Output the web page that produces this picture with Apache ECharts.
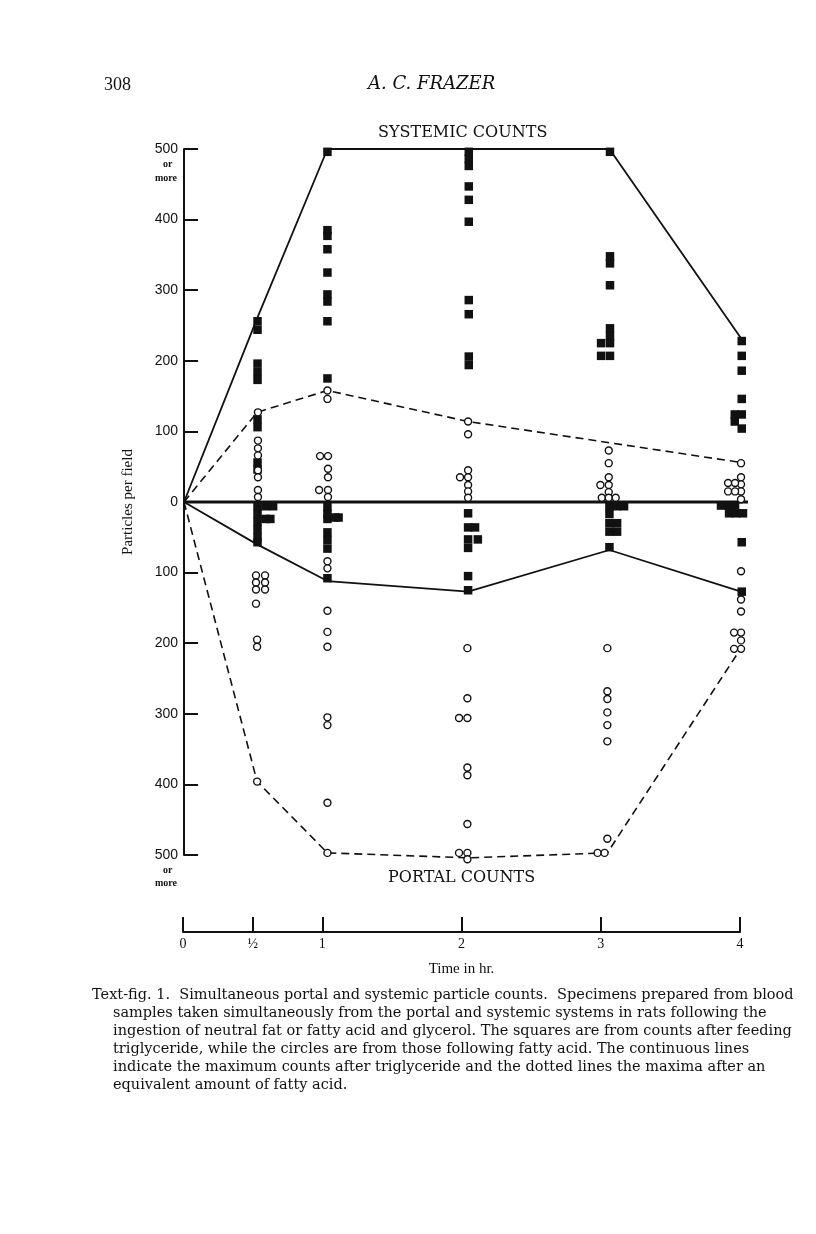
<!DOCTYPE html>
<html>
<head>
<meta charset="utf-8">
<title>Text-fig. 1</title>
<script src="https://cdn.jsdelivr.net/npm/echarts@6/dist/echarts.min.js"></script>
<style>
  html, body { margin: 0; padding: 0; background: #fff; }
  #chart { width: 816px; height: 1234px; }
</style>
</head>
<body>
<div id="chart"></div>
<script>
// x = time in hr (as placed in the drawing), y = particles per field
// portal values are kept as positive counts and drawn below the zero line
var sysTriMax  = [[0, 0], [0.525, 260], [1.03, 500], [2.04, 500], [3.055, 500], [4, 232]];
var sysFatMax  = [[0, 0], [0.525, 127], [1.03, 158], [2.04, 114], [4, 56]];
var portTriMax = [[0, 0], [0.525, 60], [1.03, 112], [2.04, 127], [3.055, 68], [4, 127]];
var portFatMax = [[0, 0], [0.525, 396], [1.03, 497], [2.04, 504], [3.04, 497], [4, 207]];

// squares = triglyceride
var sysSquares = [
  [0.528, 256], [0.528, 244], [0.528, 196], [0.528, 184], [0.528, 173], [0.528, 117], [0.528, 106], [0.528, 56], [0.528, 46],
  [1.03, 496], [1.03, 385], [1.03, 377], [1.03, 358], [1.03, 325], [1.03, 294], [1.03, 284], [1.03, 256], [1.03, 175],
  [2.045, 496], [2.045, 486], [2.045, 476], [2.045, 447], [2.045, 428], [2.045, 397], [2.045, 286], [2.045, 266], [2.045, 206], [2.045, 194],
  [3.059, 496], [3.059, 348], [3.059, 338], [3.059, 307], [3.059, 246], [3.059, 235], [3.059, 225], [3.059, 207], [2.995, 225], [2.995, 207],
  [4.005, 228], [4.005, 207], [4.005, 186], [4.005, 146], [4.005, 124], [4.005, 104], [3.955, 124], [3.955, 114]
];
var portSquares = [
  [0.528, 6], [0.528, 17], [0.528, 28], [0.528, 39], [0.528, 50], [0.528, 57], [0.585, 6], [0.64, 6], [0.585, 24], [0.62, 24],
  [1.03, 7], [1.03, 17], [1.03, 24], [1.03, 43], [1.03, 54], [1.03, 66], [1.03, 108], [1.085, 22], [1.11, 22],
  [2.04, 16], [2.04, 36], [2.09, 36], [2.04, 53], [2.04, 65], [2.11, 53], [2.04, 105], [2.04, 125],
  [3.055, 6], [3.11, 6], [3.16, 6], [3.055, 17], [3.055, 30], [3.11, 30], [3.055, 42], [3.11, 42], [3.055, 64],
  [3.856, 5], [3.907, 5], [3.957, 5], [3.914, 16], [3.964, 16], [4.014, 16], [4.005, 57], [4.005, 127]
];

// circles = fatty acid
var sysCircles = [
  [0.531, 127], [0.531, 87], [0.531, 76], [0.531, 66], [0.531, 45], [0.531, 35], [0.531, 17], [0.531, 7],
  [1.03, 158], [1.03, 146], [0.977, 65], [1.034, 65], [1.034, 47], [1.034, 35], [0.97, 17], [1.034, 17], [1.034, 7],
  [2.04, 114], [2.04, 96], [2.04, 45], [2.04, 35], [1.982, 35], [2.04, 24], [2.04, 15], [2.04, 6],
  [3.05, 73], [3.05, 55], [3.05, 35], [3.05, 24], [2.99, 24], [3.05, 14], [3.0, 6], [3.05, 6], [3.1, 6],
  [4.0, 55], [4.0, 35], [4.0, 25], [4.0, 15], [4.0, 4], [3.907, 27], [3.957, 27], [3.907, 15], [3.957, 15]
];
var portCircles = [
  [0.517, 104], [0.517, 114], [0.517, 124], [0.517, 144], [0.582, 104], [0.582, 114], [0.582, 124], [0.525, 195], [0.525, 205], [0.525, 396],
  [1.03, 84], [1.03, 94], [1.03, 154], [1.03, 184], [1.03, 205], [1.03, 305], [1.03, 316], [1.03, 426], [1.03, 497],
  [2.035, 207], [2.035, 278], [2.035, 306], [1.975, 306], [2.035, 376], [2.035, 387], [2.035, 456], [1.975, 497], [2.035, 497], [2.035, 506],
  [3.04, 207], [3.04, 268], [3.04, 279], [3.04, 298], [3.04, 316], [3.04, 339], [3.04, 477], [2.97, 497], [3.02, 497],
  [4.0, 98], [4.0, 138], [4.0, 155], [4.0, 185], [3.95, 185], [4.0, 196], [4.0, 208], [3.95, 208]
];

var timeTicks = [0, 0.5, 1, 2, 3, 4];
var timeLabels = ['0', '½', '1', '2', '3', '4'];

var captionLines = [
  'Text-fig. 1.  Simultaneous portal and systemic particle counts.  Specimens prepared from blood',
  'samples taken simultaneously from the portal and systemic systems in rats following the',
  'ingestion of neutral fat or fatty acid and glycerol. The squares are from counts after feeding',
  'triglyceride, while the circles are from those following fatty acid. The continuous lines',
  'indicate the maximum counts after triglyceride and the dotted lines the maxima after an',
  'equivalent amount of fatty acid.'
];

function below(arr) {
  return arr.map(function (p) { return [p[0], -p[1]]; });
}

var ink = '#111';
var serif = '"Liberation Serif", "DejaVu Serif", serif';
var wideSerif = '"DejaVu Serif", serif';

var graphics = [
  { type: 'text', left: 104, top: 76, style: { text: '308', font: '18px ' + serif, fill: ink } },
  { type: 'text', left: 368, top: 75, style: { text: 'A. C. FRAZER', font: 'italic 18px ' + wideSerif, fill: ink } },
  { type: 'text', left: 378, top: 125, style: { text: 'SYSTEMIC COUNTS', font: '16px ' + wideSerif, fill: ink } },
  { type: 'text', left: 388, top: 870, style: { text: 'PORTAL COUNTS', font: '16px ' + wideSerif, fill: ink } },
  { type: 'text', left: 163, top: 159, style: { text: 'or', font: 'bold 10px ' + serif, fill: ink } },
  { type: 'text', left: 155, top: 173, style: { text: 'more', font: 'bold 10px ' + serif, fill: ink } },
  { type: 'text', left: 163, top: 865, style: { text: 'or', font: 'bold 10px ' + serif, fill: ink } },
  { type: 'text', left: 155, top: 878, style: { text: 'more', font: 'bold 10px ' + serif, fill: ink } }
];
captionLines.forEach(function (line, i) {
  graphics.push({
    type: 'text',
    left: i === 0 ? 92 : 113,
    top: 988 + i * 18,
    style: { text: line, font: '14.5px ' + wideSerif, fill: ink }
  });
});

var chart = echarts.init(document.getElementById('chart'));
chart.setOption({
  backgroundColor: '#fff',
  animation: false,
  graphic: graphics,
  grid: [
    { left: 184, top: 149, width: 564, height: 706 },
    { left: 183, top: 912, width: 557, height: 20 }
  ],
  xAxis: [
    { gridIndex: 0, type: 'value', min: 0, max: 4.05, show: false },
    {
      gridIndex: 1, type: 'value', min: 0, max: 4,
      name: 'Time in hr.', nameLocation: 'middle', nameGap: 30,
      nameTextStyle: { fontFamily: serif, fontSize: 15, color: ink },
      axisLine: { show: true, onZero: false, lineStyle: { color: ink, width: 2 } },
      axisTick: { show: true, inside: true, length: 15, customValues: timeTicks, lineStyle: { color: ink, width: 2 } },
      axisLabel: {
        customValues: timeTicks, margin: 5, fontFamily: serif, fontSize: 14, color: ink,
        formatter: function (v) { return timeLabels[timeTicks.indexOf(v)]; }
      },
      splitLine: { show: false }
    }
  ],
  yAxis: [
    {
      gridIndex: 0, type: 'value', min: -500, max: 500, interval: 100,
      name: 'Particles per field', nameLocation: 'middle', nameGap: 48, nameRotate: 90,
      nameTextStyle: { fontFamily: serif, fontSize: 15, color: ink },
      axisLine: { show: true, onZero: false, lineStyle: { color: ink, width: 2 } },
      axisTick: { show: true, inside: true, length: 14, lineStyle: { color: ink, width: 2 } },
      axisLabel: {
        margin: 6, fontFamily: '"Liberation Sans", sans-serif', fontSize: 14, color: ink,
        formatter: function (v) { return String(Math.abs(v)); }
      },
      splitLine: { show: false }
    },
    { gridIndex: 1, type: 'value', show: false }
  ],
  series: [
    {
      type: 'line', data: [[0, 0], [4.05, 0]], symbol: 'none', silent: true, z: 2, clip: false,
      lineStyle: { color: ink, width: 3 }
    },
    {
      type: 'line', data: sysTriMax, symbol: 'none', silent: true, z: 2, clip: false,
      lineStyle: { color: ink, width: 1.8 }
    },
    {
      type: 'line', data: below(portTriMax), symbol: 'none', silent: true, z: 2, clip: false,
      lineStyle: { color: ink, width: 1.8 }
    },
    {
      type: 'line', data: sysFatMax, symbol: 'none', silent: true, z: 2, clip: false,
      lineStyle: { color: ink, width: 1.6, type: [8, 5] }
    },
    {
      type: 'line', data: below(portFatMax), symbol: 'none', silent: true, z: 2, clip: false,
      lineStyle: { color: ink, width: 1.6, type: [8, 5] }
    },
    {
      type: 'scatter', data: sysSquares.concat(below(portSquares)), symbol: 'rect', symbolSize: 8.5,
      silent: true, z: 3, clip: false, itemStyle: { color: ink, opacity: 1 }
    },
    {
      type: 'scatter', data: sysCircles.concat(below(portCircles)), symbol: 'circle', symbolSize: 7,
      silent: true, z: 4, clip: false, itemStyle: { color: '#fff', borderColor: ink, borderWidth: 1.4, opacity: 1 }
    }
  ]
});
</script>
</body>
</html>
